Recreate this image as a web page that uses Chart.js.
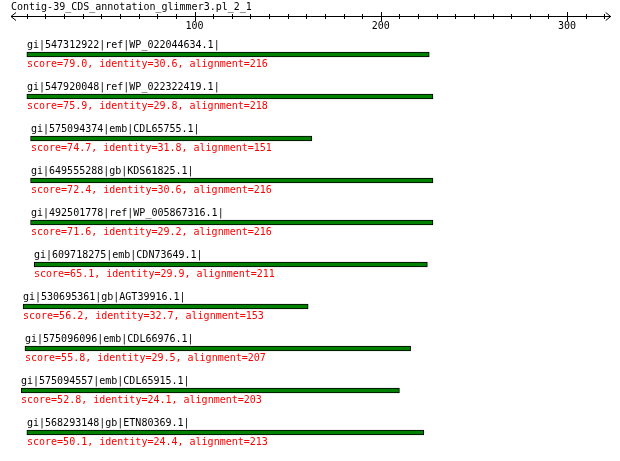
<!DOCTYPE html>
<html>
<head>
<meta charset="utf-8">
<script src="https://cdn.jsdelivr.net/npm/chart.js@4"></script>
<style>
  body { margin: 0; background: #fff; }
</style>
</head>
<body>
<canvas id="hitChart" width="620" height="461"></canvas>
<script>
// hits from the glimmer3 annotation
let title = 'Contig-39_CDS_annotation_glimmer3.pl_2_1'
let names = [
  'gi|547312922|ref|WP_022044634.1|',
  'gi|547920048|ref|WP_022322419.1|',
  'gi|575094374|emb|CDL65755.1|',
  'gi|649555288|gb|KDS61825.1|',
  'gi|492501778|ref|WP_005867316.1|',
  'gi|609718275|emb|CDN73649.1|',
  'gi|530695361|gb|AGT39916.1|',
  'gi|575096096|emb|CDL66976.1|',
  'gi|575094557|emb|CDL65915.1|',
  'gi|568293148|gb|ETN80369.1|'
]
let starts = [10, 10, 12, 12, 12, 14, 8, 9, 7, 10]
let ends = [226, 228, 163, 228, 228, 225, 161, 216, 210, 223]
let scores = ['79.0', '75.9', '74.7', '72.4', '71.6', '65.1', '56.2', '55.8', '52.8', '50.1']
let identity = ['30.6', '29.8', '31.8', '30.6', '29.2', '29.9', '32.7', '29.5', '24.1', '24.4']
let alignment = [216, 218, 151, 216, 216, 211, 153, 207, 203, 213]
let rulerTicks = [10, 20, 30, 40, 50, 60, 70, 80, 90, 100, 110, 120, 130, 140, 150, 160,
  170, 180, 190, 200, 210, 220, 230, 240, 250, 260, 270, 280, 290, 300, 310, 320]
let rulerLabels = [100, 200, 300]

let monoFont = '10px "DejaVu Sans Mono", "Liberation Mono", monospace'

// draws the title, the ruler on top and the text above / below each bar
let hitText = {
  id: 'hitText',
  afterDraw(chart) {
    let c = chart.ctx
    let xs = chart.scales.x
    let ys = chart.scales.y
    let area = chart.chartArea
    c.save()
    c.font = monoFont
    c.textAlign = 'left'
    c.textBaseline = 'alphabetic'
    c.fillStyle = '#000'
    c.fillText(title, 11, 10)

    // ruler
    let ry = 16.5
    c.strokeStyle = '#000'
    c.lineWidth = 1
    c.beginPath()
    c.moveTo(area.left, ry)
    c.lineTo(area.right, ry)
    // arrow heads
    c.moveTo(area.left + 5, ry - 4)
    c.lineTo(area.left, ry)
    c.lineTo(area.left + 5, ry + 4)
    c.moveTo(area.right - 5, ry - 4)
    c.lineTo(area.right, ry)
    c.lineTo(area.right - 5, ry + 4)
    rulerTicks.forEach(v => {
      let px = Math.round(xs.getPixelForValue(v)) + 0.5
      if (rulerLabels.includes(v)) {
        c.moveTo(px, 12)
        c.lineTo(px, 21)
      } else {
        c.moveTo(px, 14)
        c.lineTo(px, 19)
      }
    })
    c.stroke()
    c.textAlign = 'center'
    rulerLabels.forEach(v => {
      c.fillText(String(v), xs.getPixelForValue(v), 29)
    })

    // per hit text
    c.textAlign = 'left'
    names.forEach((name, i) => {
      let px = Math.round(xs.getPixelForValue(starts[i]))
      let py = ys.getPixelForValue(i)
      c.fillStyle = '#000'
      c.fillText(name, px, Math.round(py - 6.5))
      c.fillStyle = '#ff0000'
      c.fillText('score=' + scores[i] + ', identity=' + identity[i] + ', alignment=' + alignment[i],
        px, Math.round(py + 12.5))
    })
    c.restore()
  }
}

let ctx = document.getElementById('hitChart')
new Chart(ctx, {
  type: 'bar',
  data: {
    labels: names,
    datasets: [{
      data: starts.map((s, i) => [s, ends[i]]),
      backgroundColor: '#008000',
      borderColor: '#000',
      borderWidth: 1,
      borderSkipped: false,
      barThickness: 5
    }]
  },
  options: {
    indexAxis: 'y',
    responsive: false,
    animation: false,
    devicePixelRatio: 1,
    layout: { padding: { left: 11, right: 9.3, top: 33.5, bottom: 7.5 } },
    scales: {
      x: { type: 'linear', min: 1.5, max: 323.4, display: false },
      y: { display: false }
    },
    plugins: {
      legend: { display: false },
      tooltip: { enabled: false }
    }
  },
  plugins: [hitText]
})
</script>
</body>
</html>
